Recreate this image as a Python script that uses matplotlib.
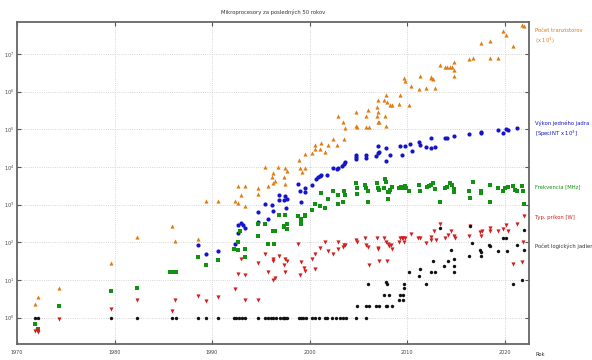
import matplotlib
matplotlib.use("Agg")
import matplotlib.pyplot as plt
from matplotlib.ticker import FixedLocator, NullLocator

# --- data (year, value) ---
# transistor count (x 10^3)
trans_year = [1971.8, 1972.2, 1974.3, 1979.6, 1982.3, 1985.9, 1986.2, 1988.6, 1989.4, 1990.6,
              1992.4, 1992.7, 1992.7, 1993.0, 1993.4, 1993.4, 1994.7, 1994.7, 1995.4, 1995.7,
              1996.1, 1996.3, 1996.3, 1996.45, 1996.8, 1997.35, 1997.45, 1997.5, 1997.65, 1998.9,
              1999.05, 1999.2, 1999.5, 1999.5, 2000.2, 2000.6, 2000.6, 2001.1, 2001.2, 2001.6,
              2001.9, 2002.4, 2002.8, 2002.9, 2003.4, 2003.5, 2003.65, 2004.8, 2004.8, 2004.85,
              2005.75, 2005.8, 2006.0, 2006.1, 2006.9, 2006.95, 2007.0, 2007.0, 2007.1, 2007.0,
              2007.6, 2007.7, 2007.8, 2007.8, 2007.95, 2008.2, 2008.45, 2009.2, 2009.3, 2009.7,
              2009.75, 2010.2, 2010.35, 2011.2, 2011.35, 2011.9, 2012.4, 2012.5, 2012.7, 2012.9,
              2013.4, 2013.85, 2014.1, 2014.4, 2014.6, 2014.8, 2014.8, 2014.8, 2016.3, 2016.75,
              2017.55, 2018.45, 2018.45, 2019.35, 2019.8, 2020.1, 2020.9, 2021.8, 2022.0]
trans_val = [2.3, 3.5, 6.1, 29, 137, 275, 110, 122, 1230, 1230,
             1230, 1100, 3100, 1750, 3100, 930, 2760, 1950, 9700, 3100,
             5400, 6900, 3700, 4300, 9700, 5400, 3500, 9400, 7600, 14800,
             9400, 7200, 9400, 22400, 23400, 29000, 37000, 29000, 42500, 25400,
             37000, 56000, 38000, 219000, 151000, 55000, 105000, 280000, 124000, 112000,
             228000, 112000, 316000, 112000, 380000, 228000, 295000, 155000, 151000, 600000,
             600000, 228000, 830000, 120000, 525000, 447000, 427000, 470000, 810000, 2.35e6,
             1.94e6, 427000, 1.38e6, 1.2e6, 2.63e6, 1.23e6, 2.5e6, 2.3e6, 2.15e6, 1.23e6,
             5.1e6, 4.36e6, 4.36e6, 4.36e6, 4.36e6, 5.9e6, 3.8e6, 2.6e6, 7.2e6, 8e6,
             2e7, 2.14e7, 8e6, 8e6, 4.1e7, 3.1e7, 1.63e7, 5.8e7, 5.6e7]

# single-thread performance (SpecINT x 10^3)
perf_year = [1988.6, 1989.4, 1990.6, 1992.4, 1992.7, 1992.7, 1993.0, 1993.2, 1993.4, 1994.7,
             1994.7, 1995.45, 1995.7, 1996.1, 1996.3, 1996.85, 1996.9, 1997.35, 1997.45, 1997.6,
             1997.7, 1998.85, 1999.05, 1999.15, 1999.5, 1999.55, 2000.2, 2000.7, 2000.85, 2001.1,
             2001.2, 2001.8, 2002.4, 2002.85, 2002.9, 2003.35, 2003.5, 2003.65, 2004.8, 2004.8,
             2004.8, 2005.75, 2005.8, 2006.85, 2007.0, 2007.1, 2007.0, 2007.8, 2007.8, 2008.2,
             2009.25, 2009.75, 2009.5, 2010.3, 2010.5, 2011.2, 2011.35, 2011.9, 2012.4, 2012.45,
             2012.9, 2013.85, 2014.1, 2014.8, 2016.3, 2017.6, 2017.6, 2019.35, 2019.8, 2020.1,
             2020.3, 2021.3]
perf_val = [83, 50, 57, 90, 178, 280, 325, 290, 240, 620,
            340, 1050, 415, 1000, 660, 1830, 1350, 1290, 1730, 815,
            1440, 3550, 2240, 1150, 2760, 2100, 3380, 4800, 5400, 5900,
            6200, 6200, 9300, 8700, 9300, 10800, 12000, 13200, 21000, 17800,
            16200, 21000, 17000, 19000, 23400, 24500, 35000, 31700, 14000, 21000,
            36500, 36500, 21000, 41500, 25800, 44600, 39000, 34000, 31700, 58000,
            34000, 58000, 58000, 67000, 74000, 79000, 86000, 93000, 77500, 100000,
            97000, 107000]

# frequency (MHz)
freq_year = [1971.8, 1972.2, 1974.3, 1979.6, 1982.3, 1985.7, 1986.0, 1986.3, 1988.6, 1989.4,
             1990.6, 1992.3, 1992.7, 1992.7, 1992.9, 1993.4, 1993.4, 1994.7, 1994.7, 1995.45,
             1995.7, 1996.4, 1996.2, 1996.45, 1996.85, 1997.35, 1997.5, 1997.7, 1997.4, 1997.7,
             1998.8, 1999.1, 1999.1, 1999.15, 1999.5, 1999.5, 2000.2, 2000.6, 2001.1, 2001.2,
             2001.6, 2001.9, 2002.4, 2002.9, 2002.9, 2003.4, 2003.5, 2003.6, 2004.8, 2004.85,
             2004.85, 2005.7, 2005.8, 2006.0, 2006.0, 2006.9, 2007.0, 2007.1, 2007.6, 2007.7,
             2007.8, 2008.0, 2008.1, 2008.0, 2008.2, 2008.45, 2009.2, 2009.4, 2009.55, 2009.75,
             2009.85, 2010.2, 2011.2, 2011.35, 2012.0, 2012.2, 2012.45, 2012.7, 2012.9, 2013.4,
             2013.85, 2014.1, 2014.4, 2014.6, 2014.8, 2014.8, 2016.3, 2016.5, 2016.75, 2017.55,
             2017.6, 2018.45, 2018.5, 2019.35, 2019.8, 2020.05, 2020.3, 2020.9, 2021.1, 2021.3,
             2021.8, 2021.9, 2022.0]
freq_val = [0.69, 0.5, 2, 5, 6, 16, 16, 16, 40, 25,
            34, 66, 61, 100, 195, 40, 66, 150, 300, 300,
            90, 90, 195, 195, 515, 250, 540, 225, 265, 300,
            500, 300, 400, 420, 490, 540, 730, 1050, 900, 2000,
            800, 1400, 2250, 1050, 1800, 1200, 2250, 1800, 3700, 2750,
            1950, 3400, 2750, 2250, 1200, 3700, 2750, 2500, 2750, 4800,
            3900, 2100, 2100, 1400, 2500, 3000, 2750, 3000, 2750, 3200,
            2750, 2300, 3400, 2300, 3000, 3200, 3400, 3700, 2600, 1200,
            2750, 2900, 3700, 3400, 2600, 2100, 2250, 1500, 3900, 2350,
            2000, 3400, 1200, 2750, 2250, 2750, 3000, 3200, 2500, 2300,
            3200, 2350, 1050]

# typical power (W)
power_year = [1971.8, 1972.1, 1972.2, 1974.3, 1979.6, 1982.3, 1985.9, 1986.2, 1988.6, 1989.4,
              1990.6, 1992.4, 1992.7, 1993.0, 1993.4, 1993.4, 1994.7, 1994.7, 1995.45, 1995.7,
              1996.2, 1996.3, 1996.3, 1996.45, 1996.85, 1997.35, 1997.5, 1997.7, 1997.5, 1998.8,
              1999.05, 1999.15, 1999.4, 1999.5, 2000.2, 2000.6, 2000.6, 2001.1, 2001.6, 2001.9,
              2002.4, 2002.9, 2002.9, 2003.4, 2003.55, 2003.65, 2004.8, 2004.85, 2005.7, 2005.8,
              2006.0, 2006.05, 2006.9, 2007.0, 2007.0, 2007.1, 2007.6, 2007.8, 2008.0, 2008.1,
              2008.3, 2008.45, 2007.9, 2009.3, 2009.45, 2009.6, 2009.75, 2009.2, 2009.7, 2010.35,
              2011.15, 2011.35, 2011.9, 2012.4, 2012.5, 2012.75, 2013.0, 2013.4, 2013.85, 2014.2,
              2014.5, 2014.8, 2014.9, 2016.3, 2016.5, 2017.5, 2017.6, 2017.7, 2018.45, 2018.55,
              2019.35, 2019.8, 2020.1, 2020.3, 2020.9, 2021.3, 2021.8, 2021.9, 2022.0]
power_val = [0.45, 0.47, 0.42, 0.92, 1.74, 3, 1.5, 3, 3.8, 2.7,
             3.46, 5.9, 14.4, 35, 13.2, 3, 28, 3, 50, 16,
             35, 31, 10, 11, 44, 25, 35, 32, 16.6, 90,
             13.7, 30, 21, 17, 36, 49, 20, 72, 100, 60,
             49, 100, 66, 74, 87, 87, 117, 100, 130, 87,
             74, 24.5, 130, 70, 66, 32, 130, 100, 90, 78,
             87, 66, 32, 130, 130, 130, 130, 100, 100, 166,
             130, 130, 98, 135, 117, 195, 117, 305, 130, 152,
             195, 145, 130, 145, 265, 187, 145, 203, 240, 195,
             203, 225, 280, 203, 27, 305, 30, 100, 490]

# number of logical cores
cores_year = [1971.8, 1972.2, 1979.6, 1982.3, 1985.9, 1986.3, 1988.6, 1989.4, 1990.6, 1992.3,
              1992.5, 1992.8, 1993.1, 1993.4, 1994.7, 1995.4, 1995.7, 1996.0, 1996.3, 1996.6,
              1997.0, 1997.3, 1997.4, 1997.5, 1997.7, 1998.9, 1999.1, 1999.3, 1999.6, 2000.2,
              2000.6, 2001.0, 2001.6, 2001.8, 2002.3, 2002.7, 2003.1, 2003.4, 2003.7, 2004.8,
              2005.8,
              2004.85, 2005.8, 2006.1, 2006.85, 2007.1, 2007.8, 2007.9, 2008.5,
              2007.6, 2008.1, 2009.3, 2009.6, 2009.2, 2009.55, 2009.7, 2009.7,
              2006.0, 2007.8, 2007.95, 2010.2, 2011.2, 2011.35, 2011.9, 2012.4, 2012.9, 2012.7,
              2013.8, 2014.2, 2014.5, 2014.8, 2014.8, 2014.8, 2013.4, 2016.3, 2016.5, 2016.7,
              2017.45, 2017.6, 2017.6, 2018.4, 2018.55, 2019.3, 2019.8, 2020.1, 2020.25, 2020.85,
              2021.25, 2022.0, 2022.0, 2021.8]
cores_val = [1] * 41 + [2, 2, 2, 2, 2, 2, 2, 2,
                        4, 4, 4, 4, 3, 3, 6, 8,
                        8, 9, 8, 16, 12.5, 19.6, 8, 16, 16, 32,
                        24, 31, 63, 36, 24, 16, 240, 44, 265, 96,
                        63, 54, 42, 87, 78, 57, 130, 130, 57, 8,
                        83, 209, 63, 10]

c_trans = "#e07c14"
c_perf = "#1414c8"
c_freq = "#129212"
c_power = "#d21e1e"
c_cores = "#111111"

plt.rcParams["font.family"] = "DejaVu Sans"

fig = plt.figure(figsize=(5.92, 3.6), dpi=100)
ax = fig.add_axes([17 / 592, 16 / 360, 512 / 592, 322 / 360])

ms = 9
ax.scatter(trans_year, trans_val, marker="^", s=ms, color=c_trans, linewidths=0, zorder=3)
ax.scatter(perf_year, perf_val, marker="o", s=ms, color=c_perf, linewidths=0, zorder=3)
ax.scatter(freq_year, freq_val, marker="s", s=ms, color=c_freq, linewidths=0, zorder=3)
ax.scatter(power_year, power_val, marker="v", s=ms, color=c_power, linewidths=0, zorder=3)
ax.scatter(cores_year, cores_val, marker="o", s=6, color=c_cores, linewidths=0, zorder=3)

ax.set_yscale("log")
ax.set_xlim(1970, 2022.5)
ax.set_ylim(0.2, 7e7)

ax.xaxis.set_major_locator(FixedLocator([1970, 1980, 1990, 2000, 2010, 2020]))
ax.yaxis.set_major_locator(FixedLocator([10.0 ** k for k in range(8)]))
ax.yaxis.set_minor_locator(NullLocator())
ax.set_yticklabels([r"$10^{%d}$" % k for k in range(8)])

ax.tick_params(direction="in", length=3, width=0.8, top=True, right=True,
               labelsize=3.5, labelcolor="#444444", color="#555555")
ax.tick_params(axis="x", pad=4)
ax.tick_params(axis="y", pad=2)
ax.grid(True, linestyle=":", linewidth=0.6, color="#c8c8c8")
for sp in ax.spines.values():
    sp.set_color("#666666")
    sp.set_linewidth(1.3)

ax.set_title("Mikroprocesory za posledných 50 rokov", fontsize=3.8, color="#333333", pad=6)

fs = 3.8
fig.text(535 / 592, 1 - 30 / 360, "Počet tranzistorov", color=c_trans, fontsize=fs, va="center")
fig.text(535 / 592, 1 - 41 / 360, r"(x $10^3$)", color=c_trans, fontsize=fs, va="center")
fig.text(535 / 592, 1 - 123 / 360, "Výkon jedného jadra", color=c_perf, fontsize=fs, va="center")
fig.text(535 / 592, 1 - 134 / 360, r"[SpecINT x $10^3$]", color=c_perf, fontsize=fs, va="center")
fig.text(535 / 592, 1 - 187 / 360, "Frekvencia [MHz]", color=c_freq, fontsize=fs, va="center")
fig.text(535 / 592, 1 - 217 / 360, "Typ. príkon [W]", color=c_power, fontsize=fs, va="center")
fig.text(535 / 592, 1 - 246 / 360, "Počet logických jadier", color="#333333", fontsize=fs, va="center")
fig.text(535 / 592, 1 - 354 / 360, "Rok", color="#333333", fontsize=fs, va="center")

fig.savefig("out.png", dpi=100)
